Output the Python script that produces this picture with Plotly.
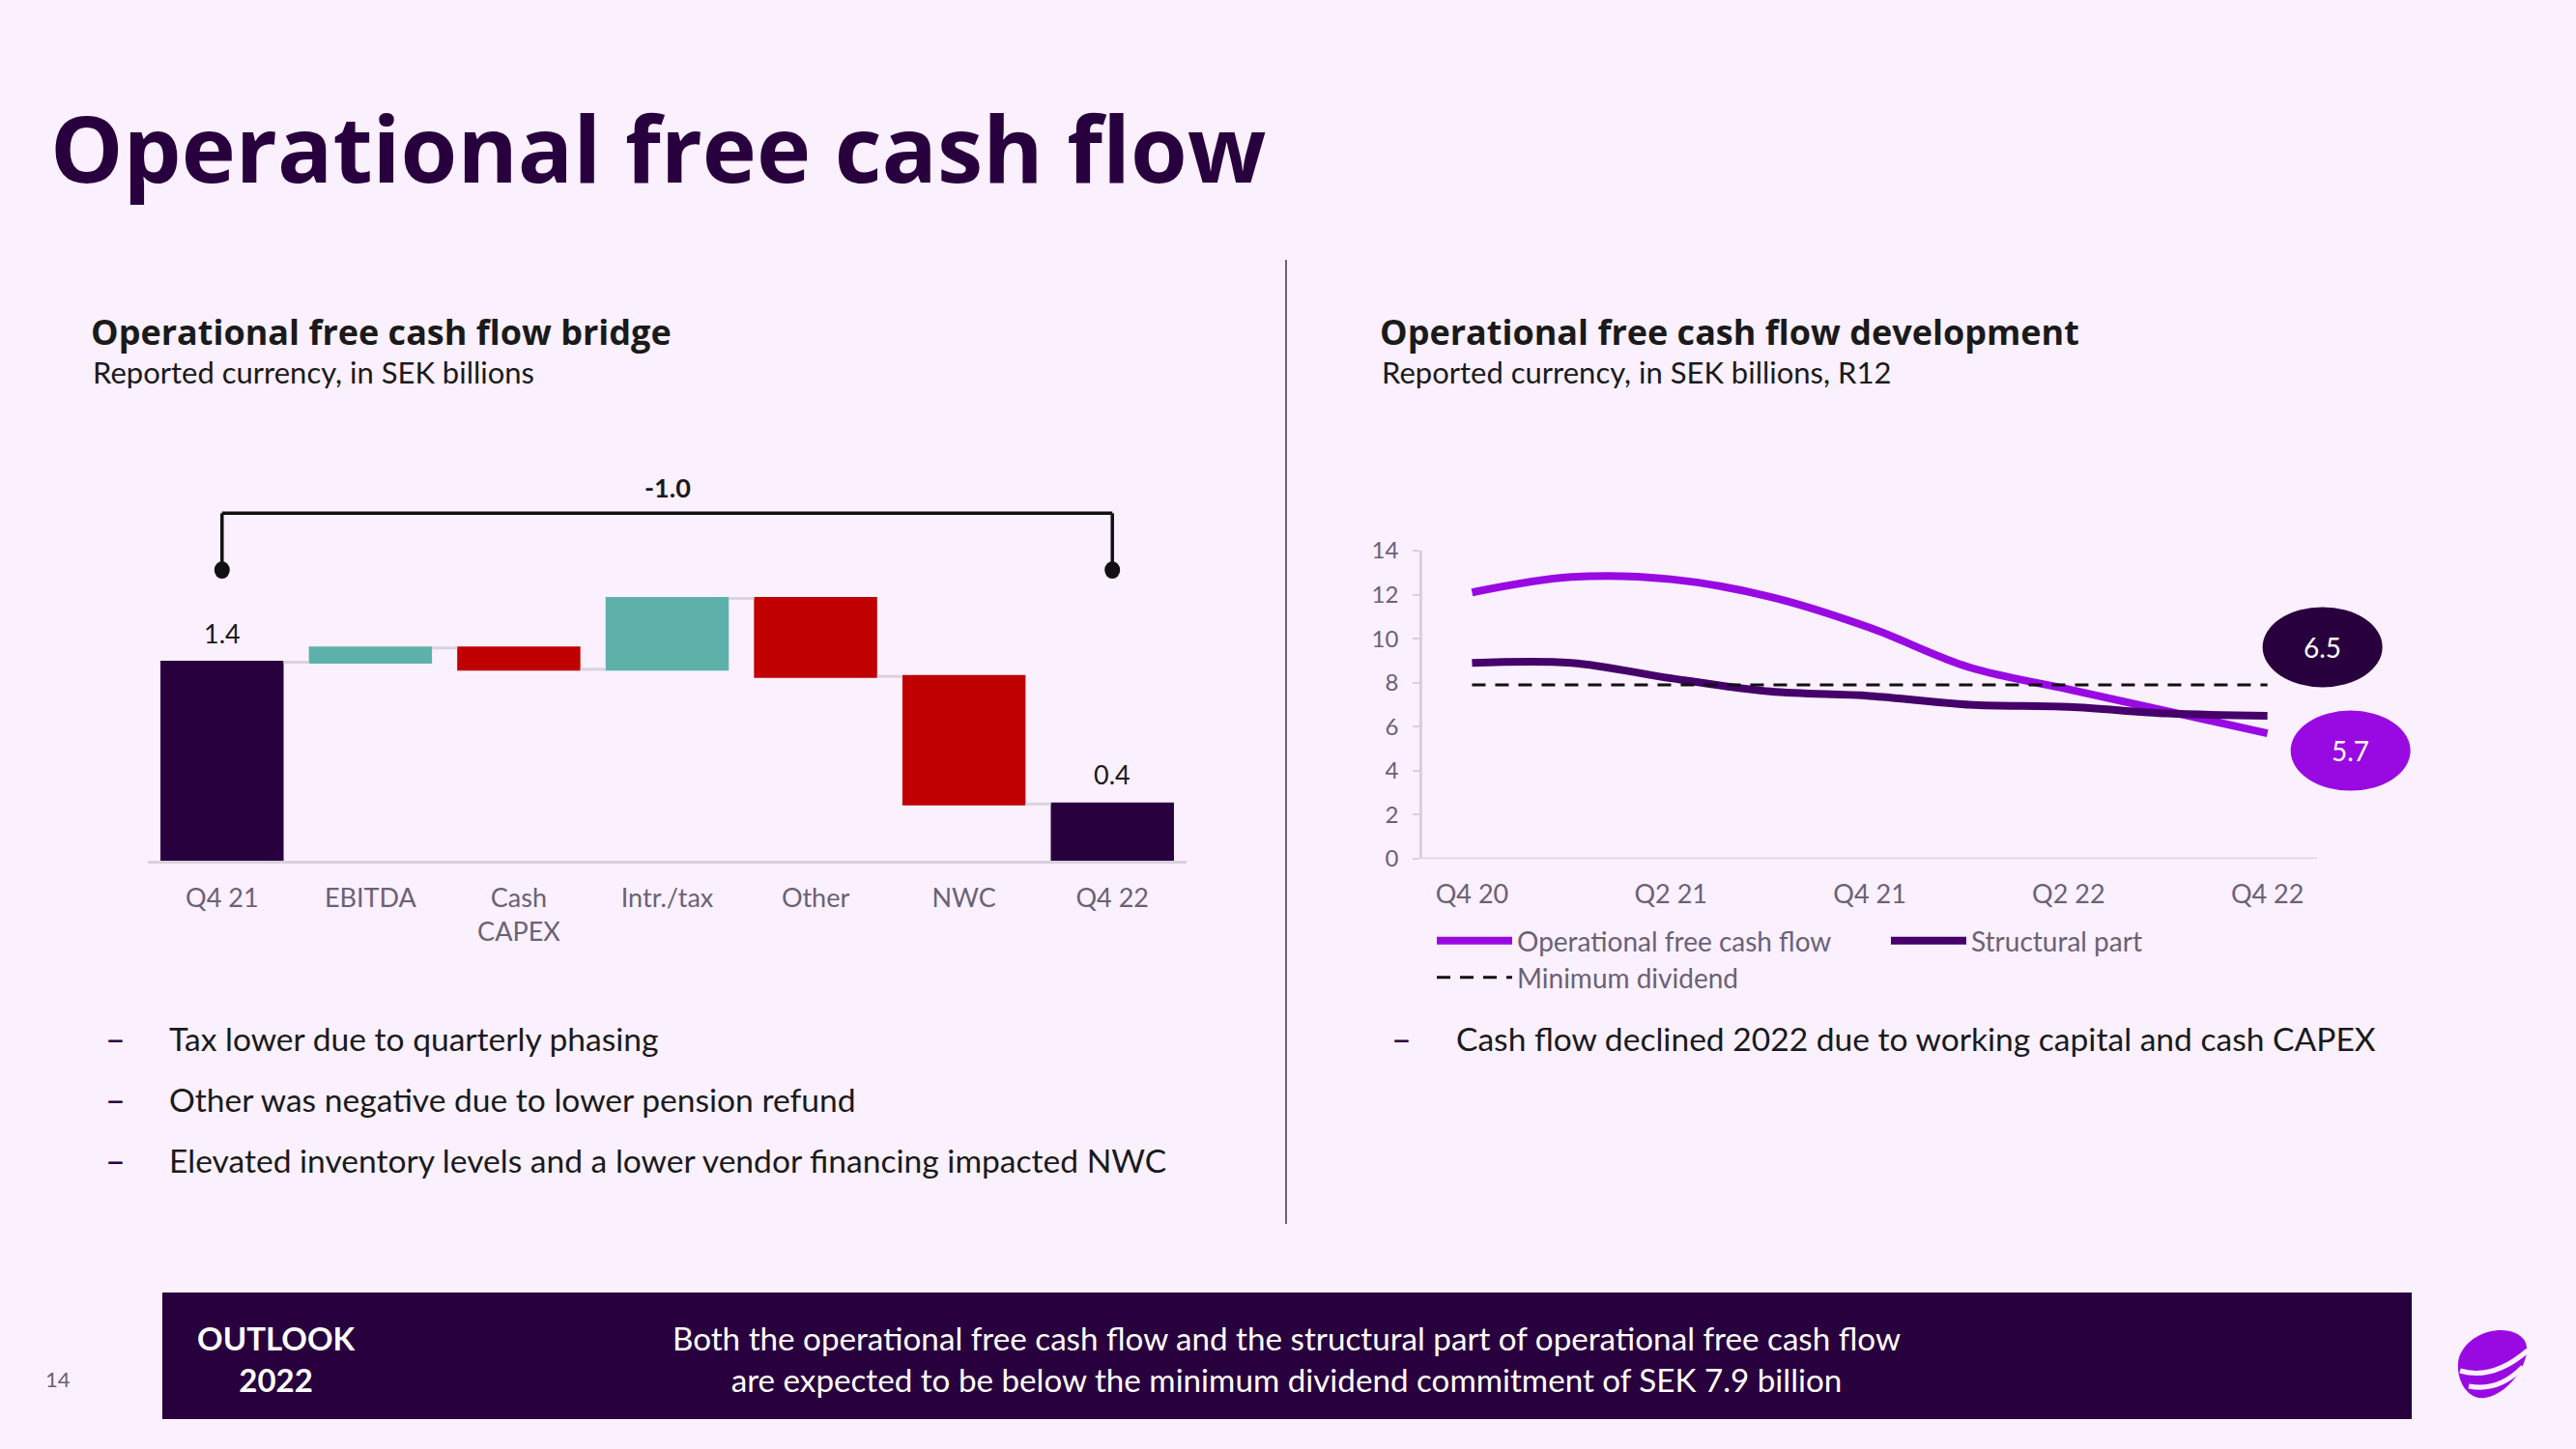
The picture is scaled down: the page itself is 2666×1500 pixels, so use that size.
import plotly.graph_objects as go

# ---------------- data ----------------
bridge_cats = ["Q4 21", "EBITDA", "Cash<br>CAPEX", "Intr./tax", "Other", "NWC", "Q4 22"]
bridge_vals = [1.4, 0.1, -0.15, 0.5, -0.55, -0.9, 0.4]
bridge_measure = ["absolute", "relative", "relative", "relative", "relative", "relative", "absolute"]

quarters = ["Q4 20", "Q1 21", "Q2 21", "Q3 21", "Q4 21", "Q1 22", "Q2 22", "Q3 22", "Q4 22"]
quarter_ticks = ["Q4 20", "Q2 21", "Q4 21", "Q2 22", "Q4 22"]
ofcf = [12.1, 12.8, 12.7, 11.9, 10.5, 8.7, 7.7, 6.7, 5.7]
structural = [8.9, 8.9, 8.2, 7.6, 7.4, 7.0, 6.9, 6.6, 6.5]
min_dividend = 7.9

# ---------------- style ----------------
W, H = 2666, 1500
BG = "#FAF0FE"
DEEP = "#29003E"
PURPLE = "#990AE3"
STRUCT = "#45006A"
TEAL = "#5EB1A9"
RED = "#C00000"
GREY = "#6B6175"
AXIS = "#D9D0DC"
TXT = "#1A1A1A"
FONT = "Lato"
HFONT = "Open Sans"


def px(x):
    return x / W


def py(y):
    return 1 - y / H


def P(x, y):
    return f"{px(x):.5f},{py(y):.5f}"


fig = go.Figure()

# ---------------- waterfall ----------------
fig.add_trace(go.Waterfall(
    x=bridge_cats, y=bridge_vals, measure=bridge_measure,
    textinfo="none",
    increasing=dict(marker=dict(color=TEAL)),
    decreasing=dict(marker=dict(color=RED)),
    totals=dict(marker=dict(color=DEEP)),
    connector=dict(line=dict(color="#DAD2DD", width=3)),
    xaxis="x", yaxis="y", showlegend=False, hoverinfo="skip",
))

# running levels for bracket
running = []
s = 0
for v, m in zip(bridge_vals, bridge_measure):
    s = v if m == "absolute" else s + v
    running.append(s)
peak = max(running)
br_top = peak + 0.6
br_dot = peak + 0.2
last_i = len(bridge_cats) - 1

shapes = []
annotations = []

for xi in (0, last_i):
    shapes.append(dict(type="line", xref="x", yref="y", x0=xi, x1=xi, y0=br_dot, y1=br_top,
                       line=dict(color="#111111", width=3.5)))
    shapes.append(dict(type="circle", xref="x", yref="y", xsizemode="pixel", ysizemode="pixel",
                       xanchor=xi, yanchor=br_dot, x0=-8, x1=8, y0=-9, y1=9,
                       fillcolor="#111111", line=dict(width=0)))
shapes.append(dict(type="line", xref="x", yref="y", x0=0, x1=last_i, y0=br_top, y1=br_top,
                   line=dict(color="#111111", width=3.5)))
annotations.append(dict(xref="x", yref="y", x=last_i / 2, y=br_top, yanchor="bottom", yshift=8,
                        text=f"<b>{bridge_vals[-1] - bridge_vals[0]:.1f}</b>", showarrow=False,
                        font=dict(size=27, color=TXT, family=FONT)))
for xi in (0, last_i):
    annotations.append(dict(xref="x", yref="y", x=xi, y=running[xi], yanchor="bottom", yshift=12,
                            text=f"{running[xi]:.1f}", showarrow=False,
                            font=dict(size=27, color=TXT, family=FONT)))

# ---------------- line chart ----------------
fig.add_trace(go.Scatter(
    x=quarters, y=ofcf, mode="lines", name="Operational free cash flow",
    line=dict(color=PURPLE, width=8, shape="spline", smoothing=1.0),
    xaxis="x2", yaxis="y2", legend="legend", hoverinfo="skip"))
fig.add_trace(go.Scatter(
    x=quarters, y=structural, mode="lines", name="Structural part",
    line=dict(color=STRUCT, width=8, shape="spline", smoothing=1.0),
    xaxis="x2", yaxis="y2", legend="legend", hoverinfo="skip"))
fig.add_trace(go.Scatter(
    x=quarters, y=[min_dividend] * len(quarters), mode="lines", name="Minimum dividend",
    line=dict(color="#111111", width=3, dash="14px,10px"),
    xaxis="x2", yaxis="y2", legend="legend2", hoverinfo="skip"))

n_q = len(quarters)
# baseline of line chart (x axis line)
shapes.append(dict(type="line", xref="x2", yref="y2", x0=-0.5, x1=n_q - 0.5, y0=0, y1=0,
                   line=dict(color=AXIS, width=2.5)))

# end bubbles
bubbles = [
    (structural[-1], DEEP, 57, 71),
    (ofcf[-1], PURPLE, 86, -18),
]
for val, col, dx, dy in bubbles:
    shapes.append(dict(type="circle", xref="x2", yref="y2", xsizemode="pixel", ysizemode="pixel",
                       xanchor=n_q - 1, yanchor=val, x0=dx - 62, x1=dx + 62, y0=dy - 41.5, y1=dy + 41.5,
                       fillcolor=col, line=dict(width=0)))
    annotations.append(dict(xref="x2", yref="y2", x=n_q - 1, y=val, xshift=dx, yshift=dy,
                            text=f"{val:.1f}", showarrow=False,
                            font=dict(size=28, color="white", family=FONT)))

# ---------------- page decoration ----------------
# divider
shapes.append(dict(type="line", xref="paper", yref="paper", x0=px(1331), x1=px(1331),
                   y0=py(269), y1=py(1267), line=dict(color="#3A3A3A", width=1.5)))
# banner
shapes.append(dict(type="rect", xref="paper", yref="paper", x0=px(168), x1=px(2496),
                   y0=py(1469), y1=py(1338), fillcolor=DEEP, line=dict(width=0), layer="below"))
# logo
pebble = ("M" + P(2545, 1405) + " C" + P(2555, 1376) + " " + P(2600, 1368) + " " + P(2613, 1388)
          + " C" + P(2622, 1404) + " " + P(2600, 1442) + " " + P(2572, 1447)
          + " C" + P(2552, 1450) + " " + P(2540, 1425) + " " + P(2545, 1405) + " Z")
shapes.append(dict(type="path", xref="paper", yref="paper", path=pebble, fillcolor=PURPLE,
                   line=dict(width=0)))
for a, c, b in [((2546, 1419), (2580, 1429), (2616, 1398)), ((2555, 1435), (2586, 1441), (2611, 1415))]:
    shapes.append(dict(type="path", xref="paper", yref="paper",
                       path="M" + P(*a) + " Q" + P(*c) + " " + P(*b),
                       line=dict(color=BG, width=5)))


def txt(x, y, text, size, color=TXT, bold=False, xanchor="left", align="left", family=FONT):
    annotations.append(dict(xref="paper", yref="paper", x=px(x), y=py(y), xanchor=xanchor,
                            yanchor="middle", text=f"<b>{text}</b>" if bold else text,
                            showarrow=False, align=align,
                            font=dict(size=size, color=color, family=family)))


txt(50, 152, "Operational free cash flow", 95, DEEP, bold=True, family=HFONT)
txt(92, 343, "Operational free cash flow bridge", 36, TXT, bold=True, family=HFONT)
txt(94, 385, "Reported currency, in SEK billions", 31)
txt(1426, 343, "Operational free cash flow development", 36, TXT, bold=True, family=HFONT)
txt(1428, 385, "Reported currency, in SEK billions, R12", 31)

bullets_left = [
    "Tax lower due to quarterly phasing",
    "Other was negative due to lower pension refund",
    "Elevated inventory levels and a lower vendor financing impacted NWC",
]
for i, b in enumerate(bullets_left):
    yy = 1075 + i * 63
    txt(119, yy, "–", 36, DEEP, xanchor="center")
    txt(173, yy, b, 33.6)
txt(1450, 1075, "–", 36, DEEP, xanchor="center")
txt(1505, 1075, "Cash flow declined 2022 due to working capital and cash CAPEX", 33.6)

txt(286, 1406, "OUTLOOK<br>2022", 33, "white", bold=True, xanchor="center", align="center")
txt(1331, 1406, "Both the operational free cash flow and the structural part of operational free cash flow"
    "<br>are expected to be below the minimum dividend commitment of SEK 7.9 billion",
    33.2, "white", xanchor="center", align="center")
txt(60, 1427, "14", 22, GREY, xanchor="center")

# ---------------- layout ----------------
fig.update_layout(
    template="none",
    width=W, height=H,
    margin=dict(l=0, r=0, t=0, b=0, autoexpand=False),
    paper_bgcolor=BG, plot_bgcolor=BG,
    font=dict(family=FONT, color=GREY),
    waterfallgap=0.17,
    xaxis=dict(domain=[px(153), px(1228)], anchor="y", type="category", range=[-0.5, 6.5],
               showline=True, linecolor=AXIS, linewidth=2.5, ticks="", showgrid=False,
               zeroline=False, tickfont=dict(size=27, color=GREY, family=FONT),
               ticklabelstandoff=13, fixedrange=True, automargin=False),
    yaxis=dict(domain=[py(891), py(480)], anchor="x", range=[0, 2.8], visible=False,
               fixedrange=True, automargin=False),
    xaxis2=dict(domain=[px(1472), px(2501)], anchor="y2", type="category",
                categoryorder="array", categoryarray=quarters, range=[-0.5, n_q + 0.5],
                tickvals=quarter_ticks, showline=False, ticks="", showgrid=False, zeroline=False,
                tickfont=dict(size=27, color=GREY, family=FONT), ticklabelstandoff=18,
                fixedrange=True, automargin=False),
    yaxis2=dict(domain=[py(889), py(570)], anchor="x2", range=[0, 14], dtick=2,
                showline=True, linecolor=AXIS, linewidth=2.5, ticks="outside", ticklen=7,
                tickcolor=AXIS, tickwidth=2, showgrid=False, zeroline=False,
                tickfont=dict(size=24, color=GREY, family=FONT), ticklabelstandoff=10,
                fixedrange=True, automargin=False),
    legend=dict(orientation="h", x=px(1482), y=py(974), xanchor="left", yanchor="middle",
                font=dict(size=28, color=GREY, family=FONT), bgcolor="rgba(0,0,0,0)",
                entrywidth=377, itemwidth=78, traceorder="normal"),
    legend2=dict(orientation="h", x=px(1482), y=py(1012), xanchor="left", yanchor="middle",
                 font=dict(size=28, color=GREY, family=FONT), bgcolor="rgba(0,0,0,0)",
                 itemwidth=78),
    shapes=shapes,
    annotations=annotations,
    showlegend=True,
)

fig.write_html("out.html", config={"displayModeBar": False},
               post_script="document.body.style.margin='0';document.body.style.overflow='hidden';")
